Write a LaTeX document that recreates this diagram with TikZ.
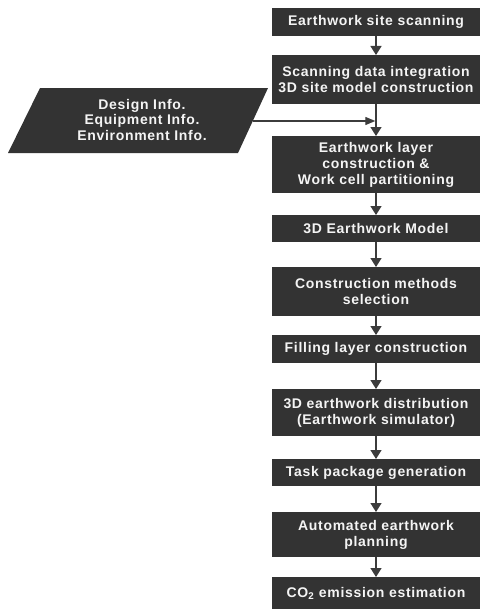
\documentclass[tikz,border=0pt]{standalone}
\usepackage{fontspec}
\setmainfont{Liberation Sans}[LetterSpace=5]
\usetikzlibrary{arrows.meta}
\definecolor{boxfill}{HTML}{333333}
\definecolor{linecol}{HTML}{3C3C3C}
\definecolor{txt}{HTML}{F4F4F4}
\begin{document}
\begin{tikzpicture}[x=1pt,y=-1pt,
  stepbox/.style={fill=boxfill, text=txt, minimum width=208pt, inner sep=0pt,
    align=center, font=\fontsize{14}{16}\selectfont\bfseries, anchor=north},
  flow/.style={draw=linecol, line width=1.3pt, -{Triangle[width=11pt,length=9pt]}},
  flowthin/.style={draw=linecol, line width=1.3pt, -{Triangle[width=8pt,length=10pt]}}]
\useasboundingbox (0,0) rectangle (481,610);
% parallelogram input
\fill[boxfill] (40,88) -- (268,88) -- (238,153) -- (8,153) -- cycle;
\node[text=txt, align=center, font=\fontsize{14}{15.5}\selectfont\bfseries, inner sep=0pt] (info) at (142,119.5)
  {Design Info.\\Equipment Info.\\Environment Info.};
\coordinate (pin) at (253,121);
% process boxes
\node[stepbox, minimum height=28pt] (b1) at (376,8) {Earthwork site scanning};
\node[stepbox, minimum height=49pt] (b2) at (376,55) {Scanning data integration\\3D site model construction};
\node[stepbox, minimum height=57pt] (b3) at (376,136) {Earthwork layer\\construction \&\\Work cell partitioning};
\node[stepbox, minimum height=27pt] (b4) at (376,215) {3D Earthwork Model};
\node[stepbox, minimum height=49pt] (b5) at (376,267) {Construction methods\\selection};
\node[stepbox, minimum height=28pt] (b6) at (376,335) {Filling layer construction};
\node[stepbox, minimum height=47pt] (b7) at (376,389) {3D earthwork distribution\\(Earthwork simulator)};
\node[stepbox, minimum height=27pt] (b8) at (376,459) {Task package generation};
\node[stepbox, minimum height=45pt] (b9) at (376,512) {Automated earthwork\\planning};
\node[stepbox, minimum height=32pt] (b10) at (376,577) {CO\textsubscript{2} emission estimation};
% connectors
\draw[flow] (b1) -- (b2);
\draw[flow] (b2) -- (b3);
\draw[flowthin, shorten >=0.7pt] (pin) -- (pin -| b2.south);
\draw[flow] (b3) -- (b4);
\draw[flow] (b4) -- (b5);
\draw[flow] (b5) -- (b6);
\draw[flow] (b6) -- (b7);
\draw[flow] (b7) -- (b8);
\draw[flow] (b8) -- (b9);
\draw[flow] (b9) -- (b10);
\end{tikzpicture}
\end{document}
